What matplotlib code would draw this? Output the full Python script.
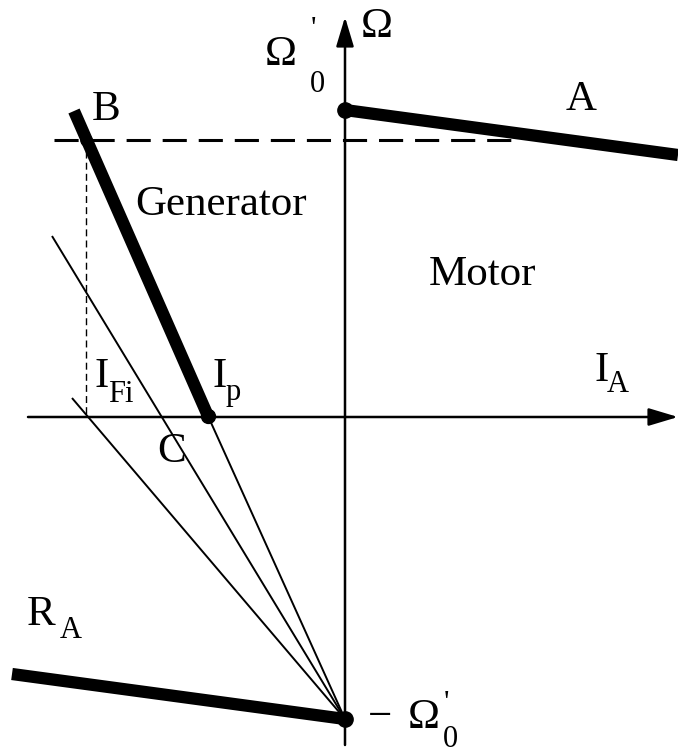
import numpy as np
import matplotlib
matplotlib.use('Agg')
from matplotlib import pyplot as plt

# speed-current plane, everything in drawing units (y grows downward)
origin        = (345, 417)
omega0        = (345, 110)      # no-load speed  Omega'_0
neg_omega0    = (345, 719)      # -Omega'_0
motor_x       = [345, 678]
motor_y       = [110, 155]
gen_x         = [74, 208]
gen_y         = [111, 416]
brake_x       = [12, 345]
brake_y       = [674, 719]
ray_starts_x  = [208, 52, 72]   # thin lines fanning out of -Omega'_0
ray_starts_y  = [416, 236, 398]
work_speed    = 140             # dashed level through A and B
work_x        = [54, 520]
point_A       = (578, 141)
point_B       = (86, 140)
point_Ip      = (208, 416)

main_fs = 31
sub_fs  = 22
serif   = 'Liberation Serif'

fig = plt.figure(figsize=(6.78, 7.54), dpi=100)
ax = fig.add_axes([0, 0, 1, 1])
ax.set_xlim(0, 678)
ax.set_ylim(754, 0)
ax.axis('off')

# axes with arrow heads
arrow = dict(arrowstyle='-|>,head_length=0.9,head_width=0.27', lw=1.8,
             color='k', mutation_scale=20, shrinkA=0, shrinkB=0)
ax.annotate('', xy=(345, 17), xytext=(345, 745), arrowprops=arrow,
            annotation_clip=False)
ax.annotate('', xy=(678, 417), xytext=(28, 417), arrowprops=arrow,
            annotation_clip=False)

# thin rays
for sx, sy in zip(ray_starts_x, ray_starts_y):
    ax.plot([sx, neg_omega0[0]], [sy, neg_omega0[1]], color='k', lw=1.4,
            solid_capstyle='butt')

# dashed guides
ax.plot(work_x, [work_speed, work_speed], color='k', lw=2.2,
        dashes=(7.9, 3.9), zorder=1)
ax.plot([point_B[0], point_B[0]], [point_B[1], origin[1]], color='k',
        lw=1.0, dashes=(5, 3))

# characteristics
ax.plot(motor_x, motor_y, color='k', lw=8.8, solid_capstyle='butt', zorder=3)
ax.plot(gen_x, gen_y, color='k', lw=8.8, solid_capstyle='butt', zorder=3)
ax.plot(brake_x, brake_y, color='k', lw=8.8, solid_capstyle='butt', zorder=3)

# marked points
for p, ms in [(omega0, 11), (neg_omega0, 11), (point_Ip, 10),
              (point_A, 7), (point_B, 8)]:
    ax.plot(p[0], p[1], 'o', color='k', ms=ms, zorder=4)

def label(x, y, s, fs=main_fs):
    ax.text(x, y, s, fontsize=fs, family=serif, ha='left', va='baseline')

label(361, 37, 'Ω')
label(265, 65, 'Ω')
label(311, 38, "'", sub_fs)
label(310, 92, '0', sub_fs)
label(566, 110, 'A')
label(92, 120, 'B')
ax.text(221, 215, 'Generator', fontsize=main_fs, family=serif,
        ha='center', va='baseline')
ax.text(482, 285, 'Motor', fontsize=main_fs, family=serif,
        ha='center', va='baseline')
label(94, 387, 'I')
label(108, 402, 'Fi', sub_fs)
label(212, 387, 'I')
label(226, 400, 'p', sub_fs)
label(594, 381, 'I')
label(607, 392, 'A', sub_fs)
label(157, 462, 'C')
label(27, 625, 'R')
label(60, 638, 'A', sub_fs)
label(368, 728, '−')
label(408, 728, 'Ω')
label(444, 712, "'", sub_fs)
label(443, 747, '0', sub_fs)

fig.savefig('out.png', dpi=100)
